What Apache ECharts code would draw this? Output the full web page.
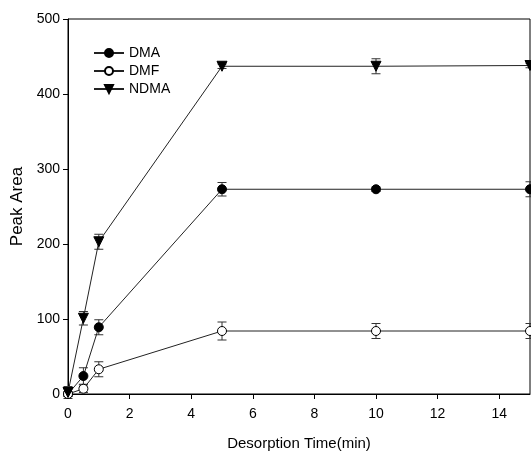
<!DOCTYPE html>
<html>
<head>
<meta charset="utf-8">
<script src="https://cdn.jsdelivr.net/npm/echarts@6/dist/echarts.min.js"></script>
<style>
  html, body { margin: 0; padding: 0; background: #fff; }
  #chart { width: 531px; height: 456px; }
</style>
</head>
<body>
<div id="chart"></div>
<script>
// desorption time (min)
var times = [0, 0.5, 1, 5, 10, 15];
// peak area + std dev
var dma = [0, 24, 89, 273, 273, 273];
var dmaErr = [3, 11, 10, 9, 3, 10];
var dmf = [0, 7, 33, 84, 84, 84];
var dmfErr = [3, 5, 10, 12, 10, 10];
var ndma = [2, 101, 203, 437, 437, 438];
var ndmaErr = [8, 9, 10, 3, 10, 3];
var xTicks = [0, 2, 4, 6, 8, 10, 12, 14];

var font = 'Liberation Sans, Arial, sans-serif';

function pairs(ys) {
  return times.map(function (t, i) { return [t, ys[i]]; });
}
function errData(ys, es) {
  return times.map(function (t, i) { return [t, ys[i] - es[i], ys[i] + es[i]]; });
}
// error bar drawing
function renderErr(params, api) {
  var lo = api.coord([api.value(0), api.value(1)]);
  var hi = api.coord([api.value(0), api.value(2)]);
  var w = 4.5;
  var st = { stroke: '#333', lineWidth: 1 };
  return {
    type: 'group',
    children: [
      { type: 'line', shape: { x1: lo[0], y1: lo[1], x2: hi[0], y2: hi[1] }, style: st },
      { type: 'line', shape: { x1: lo[0] - w, y1: lo[1], x2: lo[0] + w, y2: lo[1] }, style: st },
      { type: 'line', shape: { x1: hi[0] - w, y1: hi[1], x2: hi[0] + w, y2: hi[1] }, style: st }
    ]
  };
}
function errSeries(ys, es) {
  return {
    type: 'custom',
    renderItem: renderErr,
    data: errData(ys, es),
    encode: { x: 0, y: [1, 2] },
    clip: false,
    z: 1,
    silent: true
  };
}
function lineSeries(name, ys, symbol, extra) {
  var s = {
    name: name,
    type: 'line',
    data: pairs(ys),
    symbol: symbol,
    symbolSize: 9,
    clip: false,
    lineStyle: { color: '#222', width: 1 },
    itemStyle: { color: '#000', borderColor: '#000', borderWidth: 1 },
    z: 3
  };
  for (var k in extra) s[k] = extra[k];
  return s;
}

var chart = echarts.init(document.getElementById('chart'));
chart.setOption({
  animation: false,
  grid: {
    left: 68, top: 19, right: 1, bottom: 62,
    show: true, borderColor: '#000', borderWidth: 1, backgroundColor: 'transparent'
  },
  legend: {
    orient: 'vertical',
    left: 88, top: 41,
    itemWidth: 30, itemHeight: 10, itemGap: 4,
    textStyle: { fontFamily: font, fontSize: 14, color: '#000' },
    data: ['DMA', 'DMF', 'NDMA']
  },
  xAxis: {
    type: 'value', min: 0, max: 15,
    name: 'Desorption Time(min)', nameLocation: 'middle', nameGap: 42,
    nameTextStyle: { fontFamily: font, fontSize: 15, color: '#000' },
    axisLine: { lineStyle: { color: '#000' } },
    axisTick: { inside: false, length: 5, customValues: xTicks, lineStyle: { color: '#000' } },
    axisLabel: { customValues: xTicks, margin: 13, fontFamily: font, fontSize: 14, color: '#000' },
    splitLine: { show: false }
  },
  yAxis: {
    type: 'value', min: 0, max: 500, interval: 100,
    name: 'Peak Area', nameLocation: 'middle', nameGap: 42,
    nameTextStyle: { fontFamily: font, fontSize: 17, color: '#000' },
    axisLine: { show: true, lineStyle: { color: '#000' } },
    axisTick: { show: true, length: 5, lineStyle: { color: '#000' } },
    axisLabel: { margin: 8, fontFamily: font, fontSize: 14, color: '#000' },
    splitLine: { show: false }
  },
  series: [
    errSeries(dma, dmaErr),
    errSeries(dmf, dmfErr),
    errSeries(ndma, ndmaErr),
    lineSeries('DMA', dma, 'circle', {}),
    lineSeries('DMF', dmf, 'circle', { itemStyle: { color: '#fff', borderColor: '#000', borderWidth: 1 } }),
    lineSeries('NDMA', ndma, 'triangle', { symbolRotate: 180, symbolSize: 10 })
  ]
});
</script>
</body>
</html>
